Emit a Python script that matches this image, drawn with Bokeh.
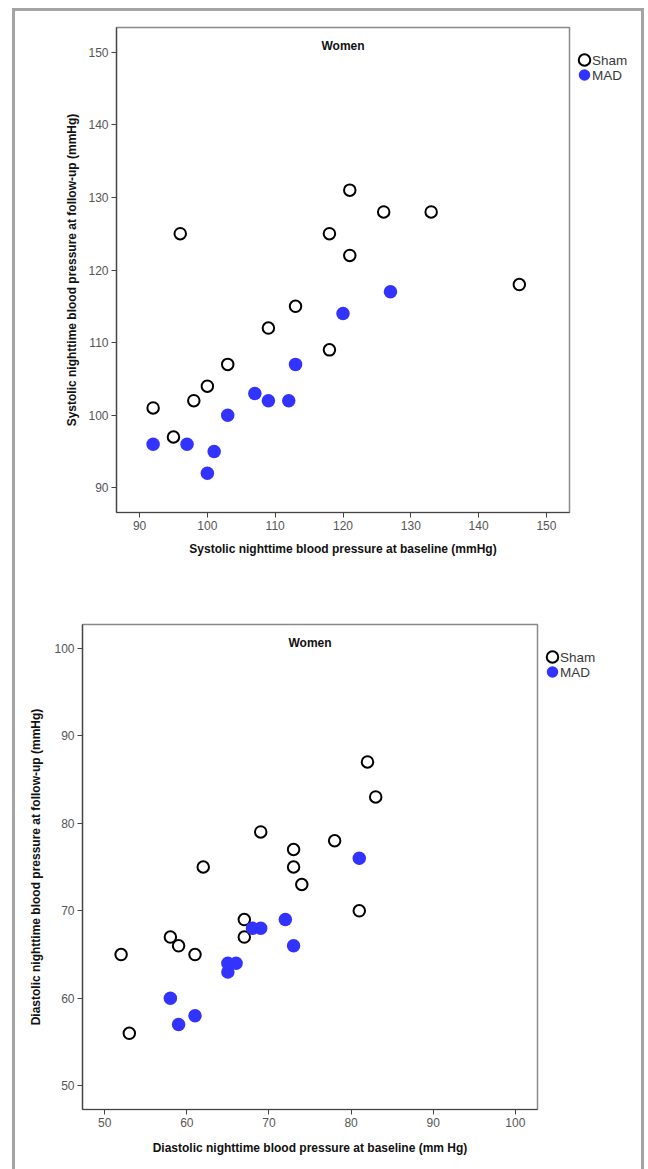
from bokeh.plotting import figure
from bokeh.layouts import column, row
from bokeh.models import FixedTicker, Range1d, Label
from bokeh.core.properties import value
from bokeh.embed import file_html
from bokeh.resources import INLINE

# ---------------- data ----------------
# Systolic (top chart)
sys_sham_base = [96, 92, 95, 98, 100, 103, 109, 113, 118, 118, 121, 121, 126, 133, 146]
sys_sham_follow = [125, 101, 97, 102, 104, 107, 112, 115, 109, 125, 131, 122, 128, 128, 118]
sys_mad_base = [92, 97, 101, 100, 103, 107, 109, 112, 113, 120, 127]
sys_mad_follow = [96, 96, 95, 92, 100, 103, 102, 102, 107, 114, 117]
sys_ticks = [90, 100, 110, 120, 130, 140, 150]

# Diastolic (bottom chart)
dia_sham_base = [52, 53, 58, 59, 61, 62, 67, 67, 69, 73, 73, 74, 78, 81, 82, 83]
dia_sham_follow = [65, 56, 67, 66, 65, 75, 69, 67, 79, 77, 75, 73, 78, 70, 87, 83]
dia_mad_base = [81, 72, 73, 68, 69, 65, 66, 65, 58, 59, 61]
dia_mad_follow = [76, 69, 66, 68, 68, 64, 64, 63, 60, 57, 58]
dia_ticks = [50, 60, 70, 80, 90, 100]

group_labels = ["Sham", "MAD"]
panel_title = "Women"

FONT = "Liberation Sans"
BLUE = "#3333ff"
FRAME_GREY = "3px solid #a4a4a4"
SHAM_STYLE = dict(size=11.5, marker="circle", fill_color="white",
                  line_color="black", line_width=2)
MAD_STYLE = dict(size=13.5, marker="circle", fill_color=BLUE, line_color=None)


def make_panel(xb, yb, xm, ym, ticks, rng, xlabel, ylabel, w, h,
               mb_left, mb_top, mb_bottom, ylab_standoff, xlab_standoff, title_y):
    p = figure(width=w, height=h, output_backend="svg", toolbar_location=None,
               x_range=Range1d(*rng), y_range=Range1d(*rng),
               min_border_left=mb_left, min_border_right=2,
               min_border_top=mb_top, min_border_bottom=mb_bottom)
    p.grid.visible = False
    p.outline_line_color = "#8a8a8a"
    p.outline_line_width = 1.5
    p.background_fill_color = "white"
    p.border_fill_color = "white"
    for ax in (p.xaxis[0], p.yaxis[0]):
        ax.ticker = FixedTicker(ticks=ticks)
        ax.axis_line_color = "#444444"
        ax.axis_line_width = 1.2
        ax.major_tick_line_color = "#444444"
        ax.major_tick_out = 5
        ax.major_tick_in = 0
        ax.minor_tick_line_color = None
        ax.major_label_text_font = FONT
        ax.major_label_text_font_size = "12px"
        ax.major_label_text_color = "#555555"
        ax.major_label_standoff = 3
        ax.axis_label_text_font = FONT
        ax.axis_label_text_font_size = "12px"
        ax.axis_label_text_font_style = "bold"
        ax.axis_label_text_color = "#111111"
    p.xaxis.axis_label = xlabel
    p.yaxis.axis_label = ylabel
    p.xaxis.axis_label_standoff = xlab_standoff
    p.yaxis.axis_label_standoff = ylab_standoff

    p.scatter(xb, yb, **SHAM_STYLE)
    p.scatter(xm, ym, **MAD_STYLE)

    p.add_layout(Label(x=(rng[0] + rng[1]) / 2, y=title_y, text=panel_title,
                       text_font=FONT, text_font_size="12px",
                       text_font_style="bold", text_align="center",
                       text_baseline="middle", text_color="#111111"))
    return p


def make_legend(w, h, mb_top, mb_bottom):
    """Legend drawn as a small side figure whose pixel space matches the frame."""
    fh = h - mb_top - mb_bottom
    lg = figure(width=w, height=h, output_backend="svg", toolbar_location=None,
                x_range=Range1d(0, w), y_range=Range1d(0, fh),
                x_axis_type=None, y_axis_type=None,
                min_border_left=0, min_border_right=0,
                min_border_top=mb_top, min_border_bottom=mb_bottom)
    lg.grid.visible = False
    lg.outline_line_color = None
    lg.border_fill_color = "white"
    gx = 13
    ys = [fh - 32.5, fh - 47.5]
    lg.scatter([gx], [ys[0]], **SHAM_STYLE)
    lg.scatter([gx], [ys[1]], size=11.5, marker="circle", fill_color=BLUE,
               line_color=None)
    lg.text([gx + 7.5] * 2, ys, text=group_labels, text_font=value(FONT),
            text_font_size="13.5px", text_color="#3a3a3a",
            text_baseline="middle", text_align="left")
    return lg


W = 626
# top panel
H1, L1, T1, B1, LEGW1 = 564, 101, 16, 63, 70
p1 = make_panel(sys_sham_base, sys_sham_follow, sys_mad_base, sys_mad_follow,
                sys_ticks, (86.6, 153.4),
                "Systolic nighttime blood pressure at baseline (mmHg)",
                "Systolic nighttime blood pressure at follow-up (mmHg)",
                W - LEGW1, H1, L1, T1, B1, 6, 9, 150.9)
lg1 = make_legend(LEGW1, H1, T1, B1)

# bottom panel
H2, L2, T2, B2, LEGW2 = 594, 67, 49, 60, 102
p2 = make_panel(dia_sham_base, dia_sham_follow, dia_mad_base, dia_mad_follow,
                dia_ticks, (47.3, 102.7),
                "Diastolic nighttime blood pressure at baseline (mm Hg)",
                "Diastolic nighttime blood pressure at follow-up (mmHg)",
                W - LEGW2, H2, L2, T2, B2, 8, 11, 100.6)
lg2 = make_legend(LEGW2, H2, T2, B2)

top = column(row(p1, lg1, spacing=0),
             styles={"border-top": FRAME_GREY, "border-left": FRAME_GREY,
                     "border-right": FRAME_GREY,
                     "margin-left": "12px", "margin-top": "8px"})
bottom = column(row(p2, lg2, spacing=0),
                styles={"border-left": FRAME_GREY,
                        "border-right": FRAME_GREY,
                        "margin-left": "12px"})

open("out.html", "w").write(file_html([top, bottom], INLINE))
